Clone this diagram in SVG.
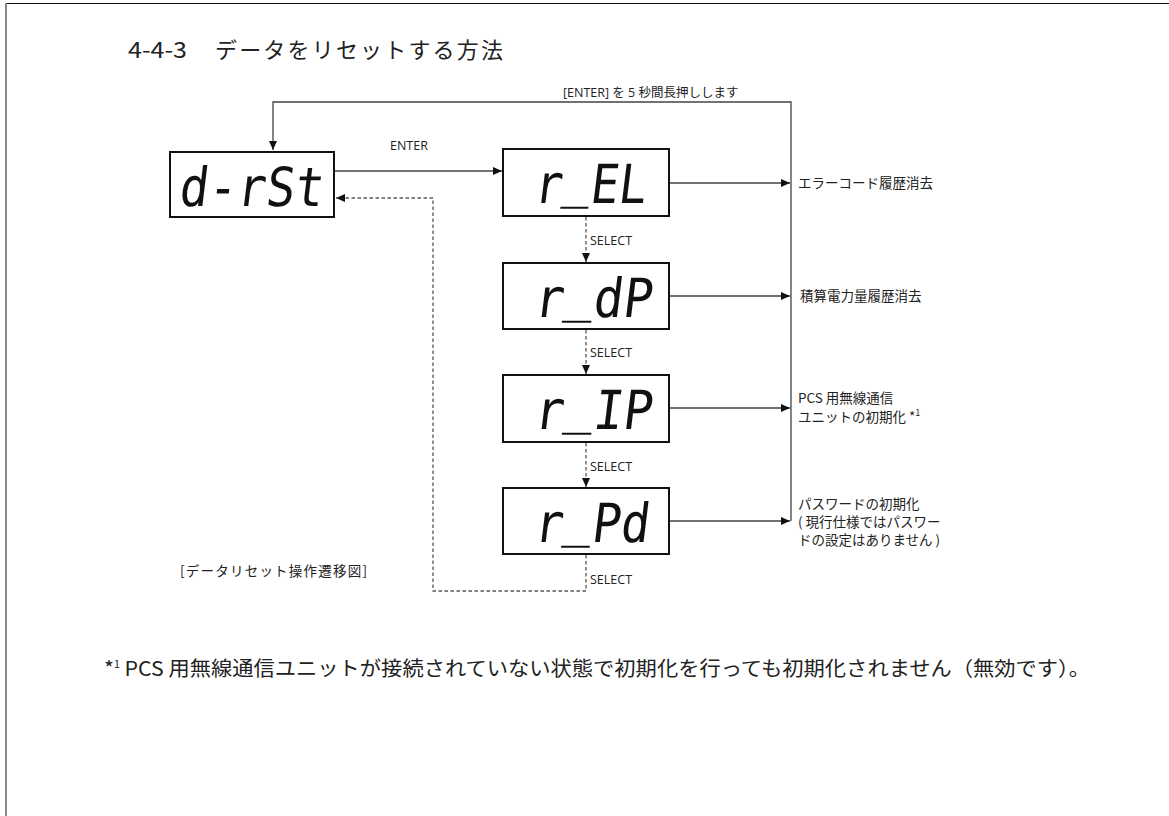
<svg xmlns="http://www.w3.org/2000/svg" width="1169" height="816" viewBox="0 0 1169 816">
<style>
.jp{font-family:"Noto Sans CJK JP","Noto Sans",sans-serif;fill:#222}
.lbl{font-family:"Open Sans","Noto Sans CJK JP",sans-serif;fill:#222;font-size:12.5px}
.box{fill:#fff;stroke:#111;stroke-width:2}
.seg{font-family:"DejaVu Sans Mono",monospace;font-size:54px;fill:#111}
.ln{fill:none;stroke:#444;stroke-width:1.3}
.dash{fill:none;stroke:#555;stroke-width:1.3;stroke-dasharray:3.5 2.5}
</style>
<defs>
<marker id="ah" markerWidth="10" markerHeight="8" refX="9" refY="4" orient="auto" markerUnits="userSpaceOnUse">
<path d="M0,0 L9,4 L0,8 Z" fill="#111"/>
</marker>
</defs>
<rect width="1169" height="816" fill="#fff"/>
<line x1="6" y1="3.5" x2="1169" y2="3.5" stroke="#111" stroke-width="1"/>
<line x1="6" y1="3" x2="6" y2="816" stroke="#888" stroke-width="2"/>

<g id="title">
<text class="jp" x="128" y="58" font-size="22" textLength="59" lengthAdjust="spacingAndGlyphs">4-4-3</text>
<text class="jp" x="215" y="58" font-size="22" textLength="288">データをリセットする方法</text>
</g>

<g id="connectors">
<polyline class="ln" points="791,521 791,102 273,102 273,150" marker-end="url(#ah)"/>
<line class="ln" x1="335" y1="171" x2="502" y2="171" marker-end="url(#ah)"/>
<line class="ln" x1="670" y1="183" x2="790" y2="183" marker-end="url(#ah)"/>
<line class="ln" x1="670" y1="296" x2="790" y2="296" marker-end="url(#ah)"/>
<line class="ln" x1="670" y1="408" x2="790" y2="408" marker-end="url(#ah)"/>
<line class="ln" x1="670" y1="521" x2="790" y2="521" marker-end="url(#ah)"/>
<line class="dash" x1="586" y1="217" x2="586" y2="262" marker-end="url(#ah)"/>
<line class="dash" x1="586" y1="330" x2="586" y2="374" marker-end="url(#ah)"/>
<line class="dash" x1="586" y1="443" x2="586" y2="487" marker-end="url(#ah)"/>
<polyline class="dash" points="586,555 586,591 433,591 433,198 336,198" marker-end="url(#ah)"/>
<text class="lbl" x="563" y="97" font-size="13">[ENTER] を 5 秒間長押しします</text>
<text class="lbl" x="390" y="150">ENTER</text>
<text class="lbl" x="590" y="245">SELECT</text>
<text class="lbl" x="590" y="357">SELECT</text>
<text class="lbl" x="590" y="471">SELECT</text>
<text class="lbl" x="590" y="584">SELECT</text>
</g>

<g id="node-drst">
<rect class="box" x="170" y="152" width="164" height="65"/>
<text class="seg" transform="translate(178,206) skewX(-7)" textLength="144" lengthAdjust="spacingAndGlyphs">d-rSt</text>
</g>
<g id="node-rel">
<rect class="box" x="503" y="149" width="166" height="67"/>
<text class="seg" transform="translate(533,203) skewX(-7)" textLength="112" lengthAdjust="spacingAndGlyphs">r<tspan dy="-7">_</tspan><tspan dy="7">EL</tspan></text>
</g>
<g id="node-rdp">
<rect class="box" x="503" y="263" width="166" height="66"/>
<text class="seg" transform="translate(533,317) skewX(-7)" textLength="118" lengthAdjust="spacingAndGlyphs">r<tspan dy="-7">_</tspan><tspan dy="7">dP</tspan></text>
</g>
<g id="node-rip">
<rect class="box" x="503" y="375" width="166" height="67"/>
<text class="seg" transform="translate(533,429) skewX(-7)" textLength="118" lengthAdjust="spacingAndGlyphs">r<tspan dy="-7">_</tspan><tspan dy="7">IP</tspan></text>
</g>
<g id="node-rpd">
<rect class="box" x="503" y="488" width="166" height="66"/>
<text class="seg" transform="translate(533,542) skewX(-7)" textLength="115" lengthAdjust="spacingAndGlyphs">r<tspan dy="-7">_</tspan><tspan dy="7">Pd</tspan></text>
</g>

<g id="descriptions" class="jp" font-size="13.5">
<text x="798" y="188">エラーコード履歴消去</text>
<text x="800" y="301">積算電力量履歴消去</text>
<text x="798" y="403">PCS 用無線通信</text>
<text x="798" y="422">ユニットの初期化 *<tspan font-size="9" dy="-6">1</tspan></text>
<text x="798" y="509">パスワードの初期化</text>
<text x="798" y="527">( 現行仕様ではパスワー</text>
<text x="798" y="545">ドの設定はありません )</text>
</g>

<g id="caption">
<text class="jp" x="180" y="576" font-size="13.5" textLength="187">[データリセット操作遷移図]</text>
</g>

<g id="footnote">
<text class="jp" x="104" y="676" font-size="20" textLength="986" lengthAdjust="spacingAndGlyphs">*<tspan font-size="10" dy="-8">1</tspan><tspan dy="8"> PCS 用無線通信ユニットが接続されていない状態で初期化を行っても初期化されません（無効です）。</tspan></text>
</g>
</svg>
